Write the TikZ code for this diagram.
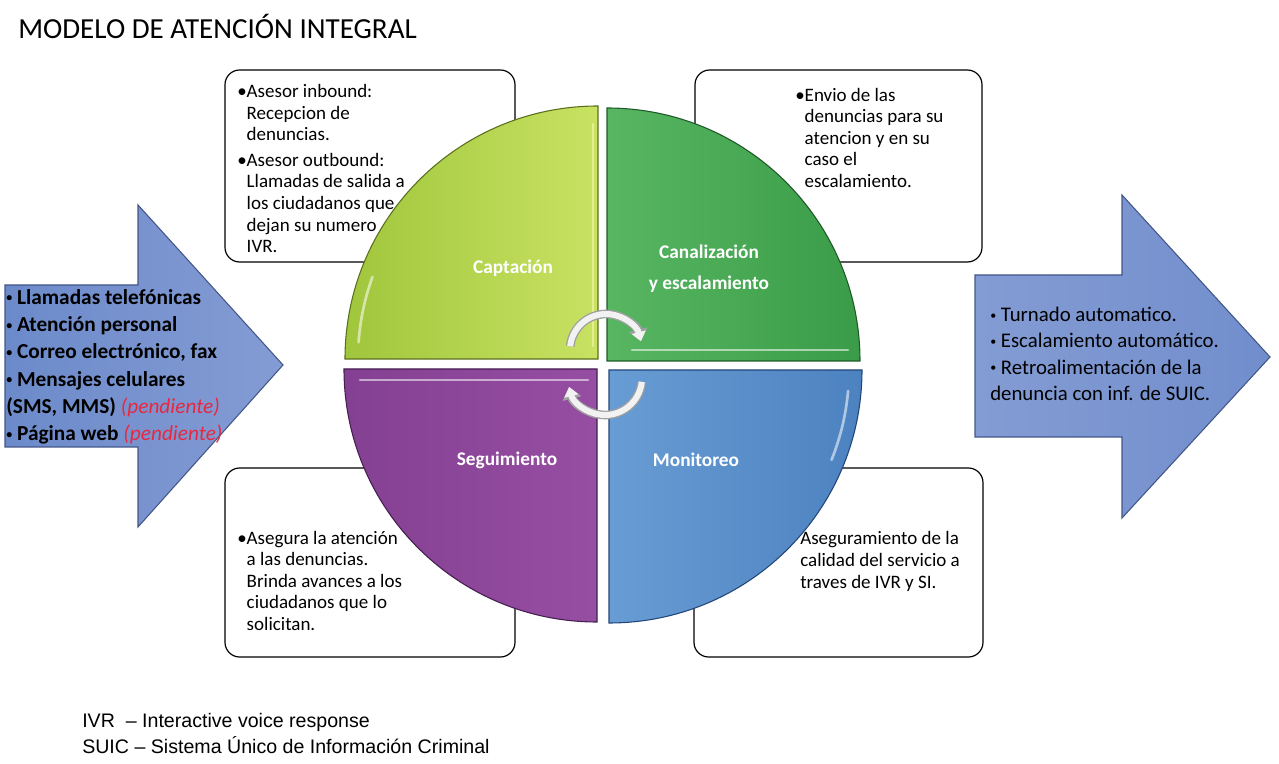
\documentclass[tikz,border=0pt]{standalone}
\usepackage{fontspec}
\setmainfont{Carlito}
\newfontfamily\footfont{Liberation Sans}
\usetikzlibrary{arrows.meta}
\definecolor{tlA}{RGB}{160,198,60}
\definecolor{tlB}{RGB}{200,226,98}
\definecolor{tlE}{RGB}{90,110,30}
\definecolor{trA}{RGB}{88,182,98}
\definecolor{trB}{RGB}{58,156,72}
\definecolor{trE}{RGB}{30,90,40}
\definecolor{blA}{RGB}{150,78,162}
\definecolor{blB}{RGB}{132,64,146}
\definecolor{blE}{RGB}{70,30,80}
\definecolor{brA}{RGB}{104,156,212}
\definecolor{brB}{RGB}{76,130,192}
\definecolor{brE}{RGB}{35,70,120}
\definecolor{arrA}{RGB}{108,138,202}
\definecolor{arrB}{RGB}{132,156,212}
\definecolor{arrE}{RGB}{66,86,136}
\definecolor{pend}{RGB}{232,40,64}
\definecolor{cycE}{RGB}{160,160,160}
\definecolor{cycF}{RGB}{242,242,242}
\newcommand{\smallbul}{\raisebox{0.12em}{\fontsize{9}{9}\selectfont•}}
\begin{document}
\begin{tikzpicture}[x=0.75pt,y=0.75pt,
  infobox/.style={draw=black, line width=0.9pt, fill=white, rounded corners=11pt},
  boxtext/.style={anchor=north west, inner sep=0pt, align=left, font=\fontsize{14.25}{16.2}\selectfont},
  bigarrow/.style={draw=arrE, line width=0.8pt},
  qlabel/.style={text=white, inner sep=0pt, align=center, font=\bfseries\fontsize{14.5}{23.5}\selectfont},
  hilite/.style={draw=white, line width=2pt, opacity=0.55, line cap=round},
  cycout/.style={draw=cycE, line width=6.5pt, -{Triangle[length=9pt,width=14pt]}},
  cycin/.style={draw=cycF, line width=4.5pt, -{Triangle[length=7pt,width=10.5pt]}}]
\useasboundingbox (0,0) rectangle (1279,764);

% title
\node[anchor=base west, inner sep=0pt, font=\fontsize{21.8}{26}\selectfont] (title) at (18,725) {MODELO DE ATENCIÓN INTEGRAL};

% big arrows
\draw[bigarrow, left color=arrA, right color=arrB]
  (5,479) -- (138,479) -- (138,559) -- (283,399) -- (138,237) -- (138,317) -- (5,317) -- cycle;
\draw[bigarrow, left color=arrB, right color=arrA!80!arrB]
  (975,489) -- (1122,489) -- (1122,569) -- (1270,407) -- (1122,246) -- (1122,327) -- (975,327) -- cycle;

\node[anchor=north west, inner sep=0pt, align=left, font=\bfseries\fontsize{16}{20.5}\selectfont] (srcs) at (6,475)
 {\smallbul\ Llamadas telefónicas\\\smallbul\ Atención personal\\\smallbul\ Correo electrónico, fax\\\smallbul\ Mensajes celulares\\(SMS, MMS) {\mdseries\itshape\color{pend}(pendiente)}\\\smallbul\ Página web {\mdseries\itshape\color{pend}(pendiente)}};
\node[anchor=north west, inner sep=0pt, align=left, font=\fontsize{15.6}{19.7}\selectfont] (outs) at (990,457)
 {\smallbul\ Turnado automatico.\\\smallbul\ Escalamiento automático.\\\smallbul\ Retroalimentación de la\\denuncia con inf. de SUIC.};

% info boxes
\draw[infobox] (225,502) rectangle (515,694);
\draw[infobox] (695,502) rectangle (982,694);
\draw[infobox] (225,107) rectangle (515,296);
\draw[infobox] (694,107) rectangle (983,296);

\node[boxtext] (tltext) at (237,680)
 {•Asesor inbound:\\\phantom{•}Recepcion de\\\phantom{•}denuncias.\\[3pt]•Asesor outbound:\\\phantom{•}Llamadas de salida a\\\phantom{•}los ciudadanos que\\\phantom{•}dejan su numero\\\phantom{•}IVR.};
\node[boxtext, font=\fontsize{14.25}{16.1}\selectfont] (trtext) at (795,676)
 {•Envio de las\\\phantom{•}denuncias para su\\\phantom{•}atencion y en su\\\phantom{•}caso el\\\phantom{•}escalamiento.};
\node[boxtext, font=\fontsize{14.25}{16.1}\selectfont] (bltext) at (237,233)
 {•Asegura la atención\\\phantom{•}a las denuncias.\\\phantom{•}Brinda avances a los\\\phantom{•}ciudadanos que lo\\\phantom{•}solicitan.};
\node[boxtext, font=\fontsize{14.25}{16.5}\selectfont] (brtext) at (800,233)
 {Aseguramiento de la\\calidad del servicio a\\traves de IVR y SI.};

% quadrants
\draw[draw=tlE, line width=0.8pt, left color=tlA, right color=tlB]
  (598,405) -- (345,405) arc[start angle=180, end angle=90, radius=253] -- cycle;
\draw[draw=trE, line width=0.8pt, left color=trA, right color=trB]
  (607,403) -- (607,656) arc[start angle=90, end angle=0, radius=253] -- cycle;
\draw[draw=blE, line width=0.8pt, left color=blB, right color=blA]
  (597,395) -- (344,395) arc[start angle=180, end angle=270, radius=253] -- cycle;
\draw[draw=brE, line width=0.8pt, left color=brA, right color=brB]
  (609,394) -- (609,141) arc[start angle=270, end angle=360, radius=253] -- cycle;

% bevel highlights
\draw[hilite] (598,405) ++(176:240) arc[start angle=176, end angle=160, radius=240];
\draw[hilite, draw=yellow!30!white] (593,418) -- (593,640);
\draw[hilite] (632,414) -- (848,414);
\draw[hilite] (360,384) -- (588,384);
\draw[hilite] (609,394) ++(-5:240) arc[start angle=-5, end angle=-22, radius=240];

% quadrant labels
\node[qlabel] (capt) at (513,496) {Captación};
\node[qlabel] (canal) at (709,495) {Canalización\\y escalamiento};
\node[qlabel] (segu) at (507,304) {Seguimiento};
\node[qlabel] (moni) at (696,304) {Monitoreo};

% cycle arrows
\draw[cycout] (606,414) ++(174:36) arc[start angle=174, end angle=14, radius=36];
\draw[cycin]  (606,414) ++(174:36) arc[start angle=174, end angle=14, radius=36];
\draw[cycout] (605,386) ++(-6:37) arc[start angle=-6, end angle=-166, radius=37];
\draw[cycin]  (605,386) ++(-6:37) arc[start angle=-6, end angle=-166, radius=37];

% footer
\node[anchor=base west, inner sep=0pt, font=\footfont\fontsize{14.7}{17}\selectfont] (ivr) at (82,36) {IVR\ \ – Interactive voice response};
\node[anchor=base west, inner sep=0pt, font=\footfont\fontsize{14.7}{17}\selectfont] (suic) at (82,10) {SUIC – Sistema Único de Información Criminal};
\end{tikzpicture}
\end{document}
